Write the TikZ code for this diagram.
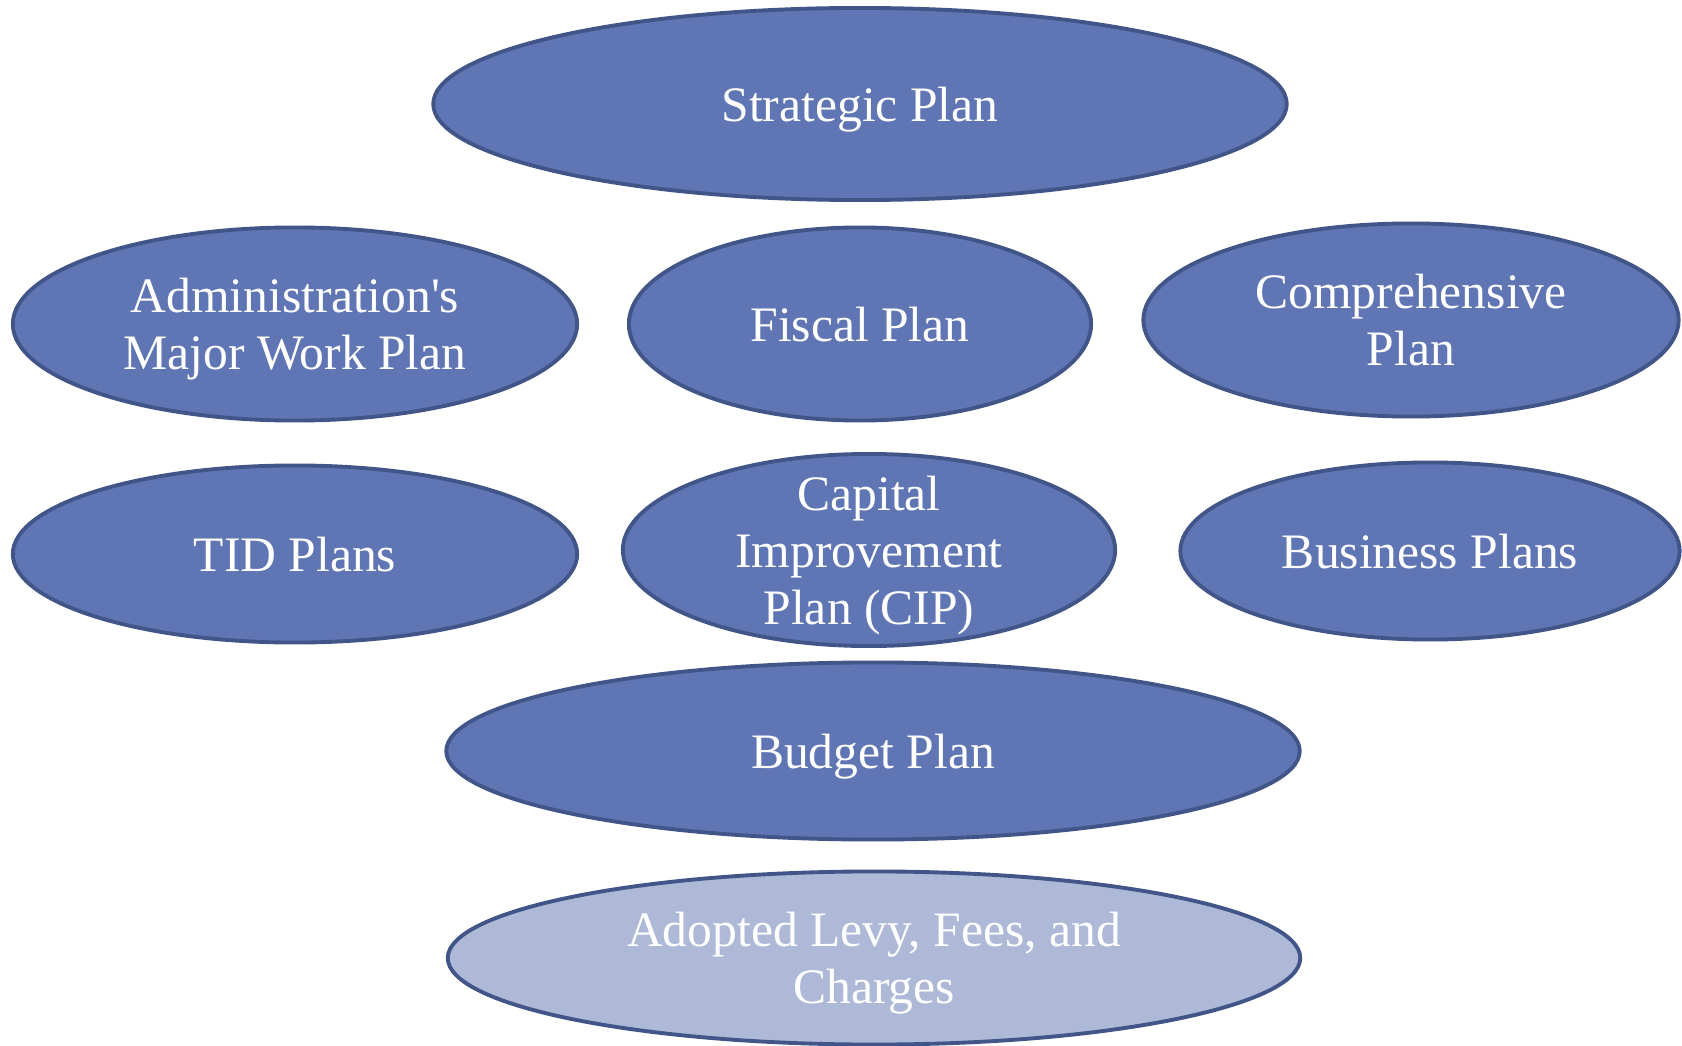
\documentclass[tikz,border=0pt]{standalone}
\usepackage{fontspec}
\setmainfont{Liberation Serif}[Ligatures=TeXOff]
\usetikzlibrary{shapes.geometric}
\definecolor{planfill}{RGB}{96,118,180}
\definecolor{planline}{RGB}{65,85,136}
\definecolor{adoptfill}{RGB}{174,185,216}
\begin{document}
\begin{tikzpicture}
  [x=0.01cm,y=-0.01cm,
   every node/.style={ellipse,draw=planline,line width=1.1pt,fill=planfill,
     text=white,inner sep=0pt,text depth=-1pt,align=center,
     font=\fontsize{14.1}{16.2}\selectfont},
   adopted/.style={fill=adoptfill}]
  \useasboundingbox (0,0) rectangle (1682,1046);
  \node[minimum width=8.53cm,minimum height=1.92cm] (strategic) at (860,104) {Strategic Plan};
  \node[minimum width=5.64cm,minimum height=1.93cm] (admin) at (295,324) {Administration's\\Major Work Plan};
  \node[minimum width=4.62cm,minimum height=1.93cm] (fiscal) at (860,324) {Fiscal Plan};
  \node[minimum width=5.35cm,minimum height=1.93cm] (comp) at (1411,320) {Comprehensive\\Plan};
  \node[minimum width=5.64cm,minimum height=1.77cm] (tid) at (295,554) {TID Plans};
  \node[inner sep=-4pt,minimum width=4.92cm,minimum height=1.92cm] (cip) at (869,550) {Capital\\Improvement\\Plan (CIP)};
  \node[minimum width=4.99cm,minimum height=1.77cm] (business) at (1430,551) {Business Plans};
  \node[minimum width=8.53cm,minimum height=1.77cm] (budget) at (873,751) {Budget Plan};
  \node[adopted,minimum width=8.52cm,minimum height=1.73cm] (levy) at (874,958) {Adopted Levy, Fees, and\\Charges};
\end{tikzpicture}
\end{document}
